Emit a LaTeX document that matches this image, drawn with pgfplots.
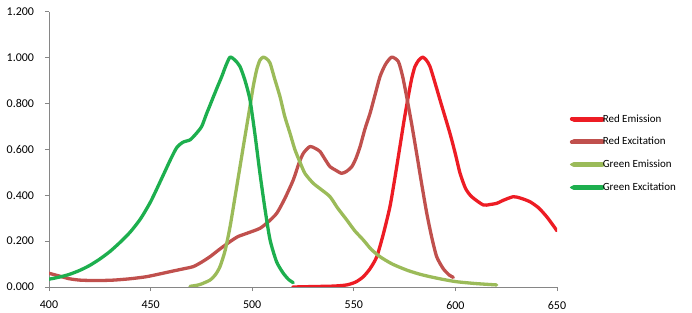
\documentclass[border=0pt]{standalone}
\usepackage{fontspec}
\setmainfont{Carlito}
\usepackage{pgfplots}
\pgfplotsset{compat=1.18}
\definecolor{redem}{HTML}{ED1C24}
\definecolor{redex}{HTML}{C0504D}
\definecolor{greenem}{HTML}{9BBB59}
\definecolor{greenex}{HTML}{1DAF4E}
\definecolor{axgray}{HTML}{868686}
\begin{document}
\begin{tikzpicture}
\useasboundingbox (-49bp,-26bp) rectangle (643bp,287bp);
\begin{axis}[
  at={(0,0)}, anchor=south west,
  scale only axis, width=508bp, height=275bp,
  xmin=400, xmax=650, ymin=0, ymax=1.2,
  axis x line=bottom, axis y line=left,
  axis line style={draw=axgray, line width=1pt, -},
  xtick={400,450,...,650}, ytick={0,0.2,...,1.2},
  tick style={draw=axgray, line width=1pt},
  tick align=outside, major tick length=4bp,
  tick label style={font=\fontsize{12}{14}\selectfont},
  /pgf/number format/assume math mode=true,
  yticklabel style={xshift=-7.5bp, /pgf/number format/.cd, fixed, fixed zerofill, precision=3},
  xticklabel style={yshift=-6.5bp, /pgf/number format/.cd, fixed, precision=0, set thousands separator={}},
  legend style={draw=none, fill=none, at={(1.025,0.63)}, anchor=north west,
    font=\fontsize{11}{13}\selectfont, row sep=12.5bp, inner sep=0pt,
    nodes={inner sep=0.6bp}},
  legend cell align=left,
  legend image code/.code={\path (-2.5bp,0bp) -- (26.5bp,0bp);
    \draw[#1, overlay, line width=5bp, line cap=round] (0bp,0bp) -- (28bp,0bp);},
  every axis plot/.append style={line width=3.3bp, line join=round, line cap=round, smooth, tension=0.4},
]
\addplot[redem] coordinates {
(520,0.0) (530,0.002) (540,0.004) (546.5,0.009) (551,0.022) (554.7,0.045) (558,0.08) (561.3,0.132) (564.5,0.23) (567.8,0.351) (570.3,0.48) (572.7,0.613) (574.8,0.73) (576.8,0.831) (578.5,0.91) (580.1,0.962) (582,0.99) (583.9,1.003) (585.7,0.99) (587.5,0.962) (590,0.89) (592.4,0.817) (597.3,0.671) (600,0.58) (602.3,0.496) (605,0.43) (608,0.394) (613.7,0.358) (617,0.36) (620.3,0.365) (624,0.38) (628.5,0.394) (632,0.388) (636.7,0.372) (641,0.345) (644.9,0.307) (648,0.27) (650,0.245)};
\addlegendentry{Red Emission}
\addplot[redex] coordinates {
(400,0.06) (405,0.048) (410,0.036) (415.3,0.03) (423,0.028) (431.6,0.03) (440,0.036) (448,0.045) (455,0.058) (461.2,0.07) (466,0.079) (471,0.089) (475,0.108) (479.2,0.132) (484,0.165) (489.1,0.198) (493,0.22) (497.3,0.234) (503.8,0.256) (508,0.285) (512.1,0.322) (516,0.385) (520.2,0.467) (523,0.54) (525.2,0.584) (528.4,0.613) (531,0.605) (533.4,0.591) (536,0.555) (538.3,0.525) (541,0.51) (544,0.496) (546.5,0.505) (549,0.525) (551,0.56) (553.1,0.613) (555.5,0.69) (558,0.758) (560.5,0.84) (562.9,0.918) (565.5,0.97) (568.6,1.003) (571.9,0.984) (574,0.92) (576,0.831) (578.5,0.71) (580.9,0.584) (583.4,0.45) (585.9,0.322) (588.4,0.215) (590.8,0.132) (594,0.08) (597,0.052) (599,0.042)};
\addlegendentry{Red Excitation}
\addplot[greenem] coordinates {
(469.4,0.003) (474,0.01) (479.2,0.03) (482,0.055) (484.2,0.09) (486.7,0.16) (489.1,0.263) (491.5,0.39) (494,0.525) (496.5,0.66) (498.9,0.787) (500.5,0.875) (502.2,0.948) (503.8,0.99) (505.5,1.003) (507.2,0.995) (508.8,0.977) (511,0.91) (513.7,0.83) (516,0.745) (518.6,0.671) (521,0.6) (523.5,0.545) (526,0.495) (530,0.453) (534,0.425) (538.3,0.394) (542,0.345) (546.5,0.293) (550.5,0.245) (554.7,0.205) (558.5,0.165) (562.9,0.132) (569,0.1) (576,0.074) (582,0.057) (587.5,0.045) (594,0.033) (600.6,0.023) (610,0.015) (620.3,0.009)};
\addlegendentry{Green Emission}
\addplot[greenex] coordinates {
(400,0.034) (405,0.043) (410,0.055) (415,0.072) (420,0.094) (425,0.122) (430,0.155) (435,0.195) (440,0.24) (445,0.297) (450,0.372) (455,0.465) (460,0.56) (463,0.61) (466,0.632) (469.4,0.642) (472,0.665) (475.1,0.70) (477.5,0.755) (480,0.81) (482.5,0.865) (485,0.918) (487,0.965) (489.1,1.003) (491.5,0.99) (494,0.962) (496.5,0.9) (498.9,0.817) (501.3,0.67) (503.8,0.497) (506.3,0.34) (508.8,0.205) (512,0.11) (515.3,0.06) (518,0.032) (520.2,0.019)};
\addlegendentry{Green Excitation}
\end{axis}
\end{tikzpicture}
\end{document}
